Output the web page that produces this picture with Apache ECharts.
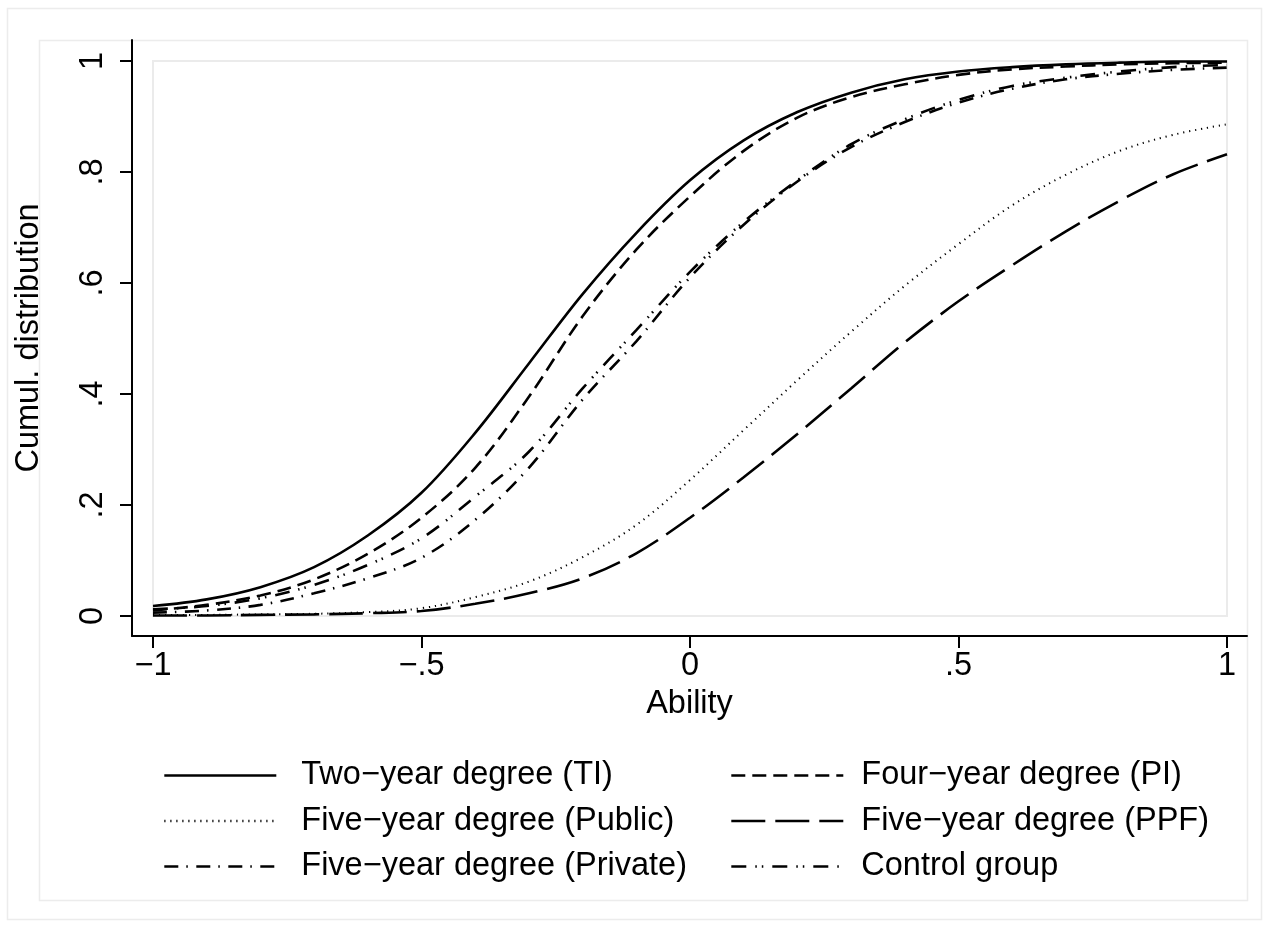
<!DOCTYPE html>
<html>
<head>
<meta charset="utf-8">
<script src="https://cdn.jsdelivr.net/npm/echarts@6/dist/echarts.min.js"></script>
<style>
html,body{margin:0;padding:0;background:#fff;}
#chart{width:1270px;height:928px;}
</style>
</head>
<body>
<div id="chart"></div>
<script>
// ---- data ----
const ability = [-1,-0.9,-0.8,-0.7,-0.6,-0.5,-0.4,-0.3,-0.2,-0.1,0,0.1,0.2,0.3,0.4,0.5,0.6,0.7,0.8,0.9,1];
const twoYearTI     = [0.018,0.030,0.052,0.088,0.145,0.222,0.330,0.455,0.580,0.690,0.785,0.857,0.908,0.943,0.967,0.981,0.989,0.994,0.997,0.999,0.999];
const fourYearPI    = [0.010,0.020,0.037,0.066,0.112,0.177,0.267,0.395,0.540,0.660,0.756,0.838,0.898,0.935,0.958,0.975,0.985,0.990,0.994,0.996,0.997];
const fiveYearPublic= [0.002,0.002,0.003,0.004,0.007,0.014,0.034,0.062,0.106,0.164,0.245,0.335,0.425,0.512,0.595,0.670,0.740,0.795,0.838,0.867,0.886];
const fiveYearPPF   = [0.001,0.001,0.002,0.003,0.005,0.009,0.022,0.041,0.068,0.113,0.177,0.250,0.328,0.410,0.493,0.567,0.632,0.693,0.748,0.796,0.832];
const fiveYearPrivate=[0.006,0.010,0.020,0.041,0.068,0.105,0.173,0.267,0.390,0.495,0.610,0.705,0.783,0.845,0.890,0.925,0.950,0.967,0.977,0.984,0.988];
const controlGroup  = [0.012,0.018,0.032,0.056,0.092,0.140,0.215,0.296,0.410,0.515,0.620,0.710,0.785,0.850,0.895,0.930,0.955,0.970,0.981,0.989,0.993];
const xTicks = [-1,-0.5,0,0.5,1];
const yTicks = [0,0.2,0.4,0.6,0.8,1];
const names = ['Two−year degree (TI)','Four−year degree (PI)','Five−year degree (Public)','Five−year degree (PPF)','Five−year degree (Private)','Control group'];

// ---- layout ----
const FONT = '"Liberation Sans", Arial, sans-serif';
const FS = 32.5;
const plotL = 153, plotR = 1227, plotT = 61, plotB = 616;
const axL = 132, axR = 1247, axT = 40, axB = 636;
const xScale = (plotR - plotL) / 2;      // px per unit
const yScale = (plotB - plotT) / 1;
const xMin = -1 - (plotL - axL) / xScale, xMax = 1 + (axR - plotR) / xScale;
const yMin = 0 - (axB - plotB) / yScale, yMax = 1 + (plotT - axT) / yScale;

function fmt(v){
  if (Math.abs(v) < 1e-9) return '0';
  let s = String(Math.abs(v)).replace(/^0\./, '.');
  return (v < 0 ? '−' : '') + s;
}
function pairs(arr){ return ability.map((x,i)=>[x, arr[i]]); }

const styles = [
  {type:'solid', width:2.6},
  {type:[14,7], width:2.6},
  {type:[1.2,4.8], width:2},
  {type:[34,10], width:2.6},
  {type:[14,8,1.5,8.5], width:2.6},
  {type:[15,9,1.5,5,1.5,9], width:2.6}
];
const seriesData = [twoYearTI, fourYearPI, fiveYearPublic, fiveYearPPF, fiveYearPrivate, controlGroup];

const series = seriesData.map((arr,i)=>({
  name: names[i],
  type: 'line',
  data: pairs(arr),
  smooth: 0.35,
  symbol: 'none',
  showSymbol: false,
  silent: true,
  animation: false,
  lineStyle: {color:'#000', width: styles[i].width, type: styles[i].type, cap:'butt'},
  itemStyle: {color:'#000'},
  z: 3
}));

function legendCfg(left, data, gap){
  return {
    show: true,
    orient: 'vertical',
    left: left, top: 759,
    padding: 0,
    itemWidth: 112, itemHeight: 20, itemGap: 12.5,
    selectedMode: false,
    data: data,
    itemStyle: {color:'rgba(0,0,0,0)', borderWidth:0},
    lineStyle: {width: 2.6},
    textStyle: {fontFamily: FONT, fontSize: FS, color:'#000', lineHeight: FS, padding:[0,0,0,gap]}
  };
}

const chart = echarts.init(document.getElementById('chart'), null, {renderer:'canvas'});
chart.setOption({
  backgroundColor: '#fff',
  animation: false,
  textStyle: {fontFamily: FONT},
  graphic: [
    {type:'rect', z:0, silent:true, shape:{x:7.5,y:8.5,width:1254,height:911}, style:{fill:null, stroke:'#ececec', lineWidth:1.5}},
    {type:'rect', z:0, silent:true, shape:{x:39.5,y:40.5,width:1208,height:860}, style:{fill:null, stroke:'#ececec', lineWidth:1.5}},
    {type:'rect', z:0, silent:true, shape:{x:plotL,y:plotT,width:plotR-plotL,height:plotB-plotT}, style:{fill:null, stroke:'#ebebeb', lineWidth:2}}
  ],
  grid: {left: axL, top: axT, width: axR - axL, height: axB - axT, containLabel: false},
  xAxis: {
    type: 'value', min: xMin, max: xMax,
    name: 'Ability', nameLocation: 'middle', nameGap: 52,
    nameTextStyle: {fontFamily: FONT, fontSize: FS, color:'#000'},
    axisLine: {show:true, onZero:false, lineStyle:{color:'#000', width:2}},
    axisTick: {show:true, length:12, lineStyle:{color:'#000', width:2}, customValues: xTicks},
    axisLabel: {show:true, fontFamily: FONT, fontSize: FS, color:'#000', margin: 14, customValues: xTicks, formatter: fmt},
    splitLine: {show:false}
  },
  yAxis: {
    type: 'value', min: yMin, max: yMax,
    name: 'Cumul. distribution', nameLocation: 'middle', nameGap: 86,
    nameTextStyle: {fontFamily: FONT, fontSize: FS, color:'#000'},
    axisLine: {show:true, onZero:false, lineStyle:{color:'#000', width:2}},
    axisTick: {show:true, length:12, lineStyle:{color:'#000', width:2}, customValues: yTicks},
    axisLabel: {show:true, rotate: 90, fontFamily: FONT, fontSize: FS, color:'#000', margin: 22, customValues: yTicks, formatter: fmt},
    splitLine: {show:false}
  },
  legend: [
    legendCfg(163, [names[0], names[2], names[4]], 20),
    legendCfg(730, [names[1], names[3], names[5]], 13)
  ],
  series: series
});
</script>
</body>
</html>
